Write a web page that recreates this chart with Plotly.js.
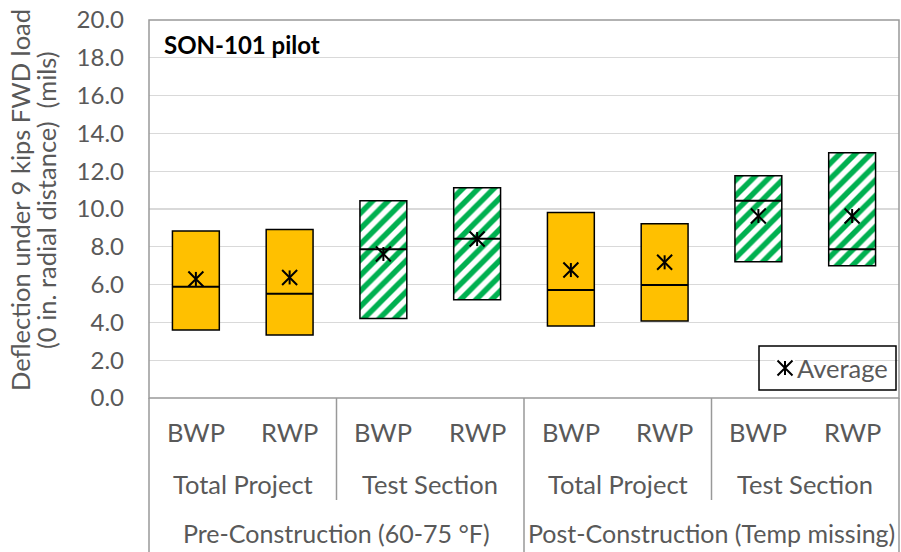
<!DOCTYPE html>
<html>
<head>
<meta charset="utf-8">
<script src="https://cdn.plot.ly/plotly-3.0.1.min.js"></script>
<style>
html,body{margin:0;padding:0;background:#fff;}
#chart{width:901px;height:552px;}
</style>
</head>
<body>
<div id="chart"></div>
<script>
// ---- data ----
var wheelPaths = ["BWP","RWP","BWP","RWP","BWP","RWP","BWP","RWP"];
var sections = ["Total Project","Test Section","Total Project","Test Section"];
var periods = ["Pre-Construction (60-75 °F)","Post-Construction (Temp missing)"];
var boxBottom = [3.60, 3.33, 4.20, 5.20, 3.81, 4.07, 7.21, 7.00];
var boxTop    = [8.84, 8.92, 10.44, 11.13, 9.82, 9.22, 11.76, 12.98];
var medians   = [5.89, 5.52, 7.87, 8.43, 5.71, 5.98, 10.44, 7.87];
var averages  = [6.30, 6.38, 7.62, 8.41, 6.77, 7.18, 9.63, 9.63];
var isTestSection = [false,false,true,true,false,false,true,true];
var legendLabel = "Average";

var FONT = "Lato, 'Open Sans', sans-serif";
var GRAY = "#595959";
var xs = wheelPaths.map(function(_, i){ return i; });
var n = xs.length;

function pick(arr, mask, want){ return arr.filter(function(_, i){ return mask[i] === want; }); }

var xTP = xs.filter(function(_, i){ return !isTestSection[i]; });
var xTS = xs.filter(function(_, i){ return isTestSection[i]; });

var STAR_V = {symbol: "line-ns", size: 10, line: {color: "#000", width: 2}};
var STAR_X = {symbol: "x-thin", size: 15, line: {color: "#000", width: 2}};

var traces = [
  {
    type: "bar", x: xTP,
    base: pick(boxBottom, isTestSection, false),
    y: xTP.map(function(i){ return boxTop[i] - boxBottom[i]; }),
    width: 0.5,
    marker: {color: "#FFC000", line: {color: "#000", width: 1.5}},
    showlegend: false, hoverinfo: "skip"
  },
  {
    type: "bar", x: xTS,
    base: pick(boxBottom, isTestSection, true),
    y: xTS.map(function(i){ return boxTop[i] - boxBottom[i]; }),
    width: 0.5,
    marker: {color: "#FFFFFF", line: {color: "#000", width: 1.5},
      pattern: {shape: "/", fgcolor: "#00B050", bgcolor: "#FFFFFF", size: 11, solidity: 0.5}},
    showlegend: false, hoverinfo: "skip"
  },
  {
    type: "scatter", mode: "markers", x: xs, y: medians,
    marker: {symbol: "line-ew", size: 33.6, line: {color: "#000", width: 2}},
    showlegend: false, hoverinfo: "skip"
  },
  {
    type: "scatter", mode: "markers", x: xs, y: averages, name: legendLabel,
    marker: STAR_V, showlegend: false
  },
  {
    type: "scatter", mode: "markers", x: xs, y: averages, name: legendLabel,
    marker: STAR_X, showlegend: false
  },
  // legend symbol (drawn in a small hidden overlay axis)
  {type: "scatter", mode: "markers", x: [0], y: [0], xaxis: "x2", yaxis: "y2",
    marker: STAR_V, showlegend: false, hoverinfo: "skip"},
  {type: "scatter", mode: "markers", x: [0], y: [0], xaxis: "x2", yaxis: "y2",
    marker: STAR_X, showlegend: false, hoverinfo: "skip"}
];

var PW = 750, PH = 378;
var bottomY = -154/PH;
var annotations = [];
var CAT_FONT = {family: FONT, size: 25.5, color: GRAY};
var L3_FONT = {family: FONT, size: 25, color: GRAY};
// level 1
wheelPaths.forEach(function(t, i){
  annotations.push({xref: "x", yref: "paper", x: xs[i], y: -34/PH, text: t, showarrow: false,
    xanchor: "center", yanchor: "middle", font: CAT_FONT});
});
// level 2
sections.forEach(function(t, j){
  annotations.push({xref: "x", yref: "paper", x: 2*j + 0.5, y: -86/PH, text: t, showarrow: false,
    xanchor: "center", yanchor: "middle", font: CAT_FONT});
});
// level 3
periods.forEach(function(t, k){
  annotations.push({xref: "x", yref: "paper", x: 4*k + 1.5, y: -135/PH, text: t, showarrow: false,
    xanchor: "center", yanchor: "middle", font: L3_FONT});
});
// title inside plot
annotations.push({xref: "paper", yref: "paper", x: 13/PW, y: 1 - 24/PH, text: "<b>SON-101 pilot</b>",
  showarrow: false, xanchor: "left", yanchor: "middle", font: {family: FONT, size: 24, color: "#000"}});
// y-axis title (two lines)
annotations.push({xref: "paper", yref: "paper", x: -129/PW, y: 198/PH, text: "Deflection under 9 kips FWD load",
  showarrow: false, textangle: -90, xanchor: "center", yanchor: "middle", font: CAT_FONT});
annotations.push({xref: "paper", yref: "paper", x: -103/PW, y: 198/PH, text: "(0 in. radial distance)  (mils)",
  showarrow: false, textangle: -90, xanchor: "center", yanchor: "middle", font: CAT_FONT});
// legend text
annotations.push({xref: "paper", yref: "paper", x: 646/PW, y: 30/PH, text: legendLabel,
  showarrow: false, xanchor: "left", yanchor: "middle", font: CAT_FONT});

var LINE = {color: "#999999", width: 1.5};
var shapes = [
  {type: "rect", xref: "paper", yref: "paper", x0: 0, x1: 1, y0: 0, y1: 1, line: LINE},
  {type: "line", xref: "paper", yref: "paper", x0: 0, x1: 0, y0: 0, y1: bottomY, line: LINE},
  {type: "line", xref: "paper", yref: "paper", x0: 1, x1: 1, y0: 0, y1: bottomY, line: LINE},
  // legend box
  {type: "rect", xref: "paper", yref: "paper", x0: 610/PW, x1: 747/PW, y0: 8/PH, y1: 52/PH,
    line: {color: "#000", width: 1.5}, fillcolor: "rgba(0,0,0,0)"}
];
// separators between sections (level 2) and periods (level 3)
for (var s = 2; s < n; s += 2) {
  var px = s / n;
  var full = (s % 4 === 0);
  shapes.push({type: "line", xref: "paper", yref: "paper", x0: px, x1: px, y0: 0,
    y1: full ? bottomY : -102/PH, line: LINE});
}

var layout = {
  width: 901, height: 552,
  margin: {l: 149, r: 2, t: 20, b: 154},
  paper_bgcolor: "#fff", plot_bgcolor: "#fff",
  barmode: "overlay",
  showlegend: false,
  xaxis: {range: [-0.5, n - 0.5], showticklabels: false, showgrid: false, zeroline: false,
    showline: false, ticks: "", fixedrange: true},
  yaxis: {range: [0, 20], dtick: 2, tick0: 0, tickformat: ".1f", showgrid: true, gridcolor: "#D9D9D9",
    gridwidth: 1.3, zeroline: false, showline: false, ticks: "", ticklen: 0, ticklabelstandoff: 24,
    tickfont: {family: FONT, size: 24, color: GRAY}, automargin: false},
  xaxis2: {domain: [626/PW, 646/PW], range: [-1, 1], visible: false, anchor: "y2", fixedrange: true},
  yaxis2: {domain: [20/PH, 40/PH], range: [-1, 1], visible: false, anchor: "x2", fixedrange: true},
  annotations: annotations,
  shapes: shapes
};

Plotly.newPlot("chart", traces, layout, {displayModeBar: false, staticPlot: true});
</script>
</body>
</html>
